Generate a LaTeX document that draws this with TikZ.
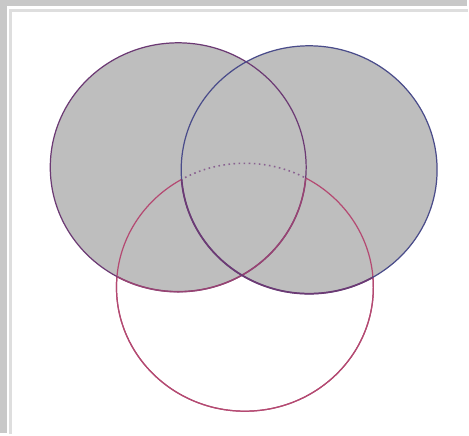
\documentclass[tikz,border=0pt]{standalone}
\usepackage{xcolor}
\definecolor{framegray}{HTML}{C8C8C8}
\definecolor{linegray}{HTML}{DEDEDE}
\definecolor{setfill}{HTML}{BEBEBE}
\definecolor{setA}{HTML}{6C3A74}
\definecolor{setB}{HTML}{4A4C8A}
\definecolor{setC}{HTML}{B44A72}
\usepackage{tikz}

\begin{document}
\begin{tikzpicture}[x=0.02cm, y=-0.02cm, line width=0.7pt]
  % frame
  \fill[framegray] (0,0) rectangle (469,435);
  \fill[white] (7,6) rectangle (469,435);
  \draw[linegray, line width=1.2pt] (10.5,436) -- (10.5,10.5) -- (470,10.5);
  \useasboundingbox (0,0) rectangle (469,435);

  % union of A and B
  \fill[setfill] (179,168) ellipse [x radius=128.5, y radius=125];
  \fill[setfill] (310.5,170.5) ellipse [x radius=128.5, y radius=124.5];

  % set C, solid outside the lens of A and B
  \begin{scope}[even odd rule]
    \clip (0,0) rectangle (469,435) (179,168) ellipse [x radius=128.5, y radius=125];
    \draw[setC] (246,288.5) ellipse [x radius=129, y radius=124.5];
  \end{scope}
  \begin{scope}[even odd rule]
    \clip (0,0) rectangle (469,435) (310.5,170.5) ellipse [x radius=128.5, y radius=124.5];
    \draw[setC] (246,288.5) ellipse [x radius=129, y radius=124.5];
  \end{scope}

  % faint trace of C inside the lens
  \begin{scope}
    \clip (179,168) ellipse [x radius=128.5, y radius=125];
    \clip (310.5,170.5) ellipse [x radius=128.5, y radius=124.5];
    \draw[setA!80, dotted, line width=0.9pt] (246,288.5) ellipse [x radius=129, y radius=124.5];
  \end{scope}

  % outlines of A and B
  \draw[setA] (179,168) ellipse [x radius=128.5, y radius=125];
  \draw[setB] (310.5,170.5) ellipse [x radius=128.5, y radius=124.5];

  % A and B where they run inside C
  \begin{scope}
    \clip (246,288.5) ellipse [x radius=129, y radius=124.5];
    \draw[setC!60!setA, line width=0.9pt] (179,168) ellipse [x radius=128.5, y radius=125];
    \draw[setA, line width=1pt] (310.5,170.5) ellipse [x radius=128.5, y radius=124.5];
  \end{scope}
\end{tikzpicture}
\end{document}
